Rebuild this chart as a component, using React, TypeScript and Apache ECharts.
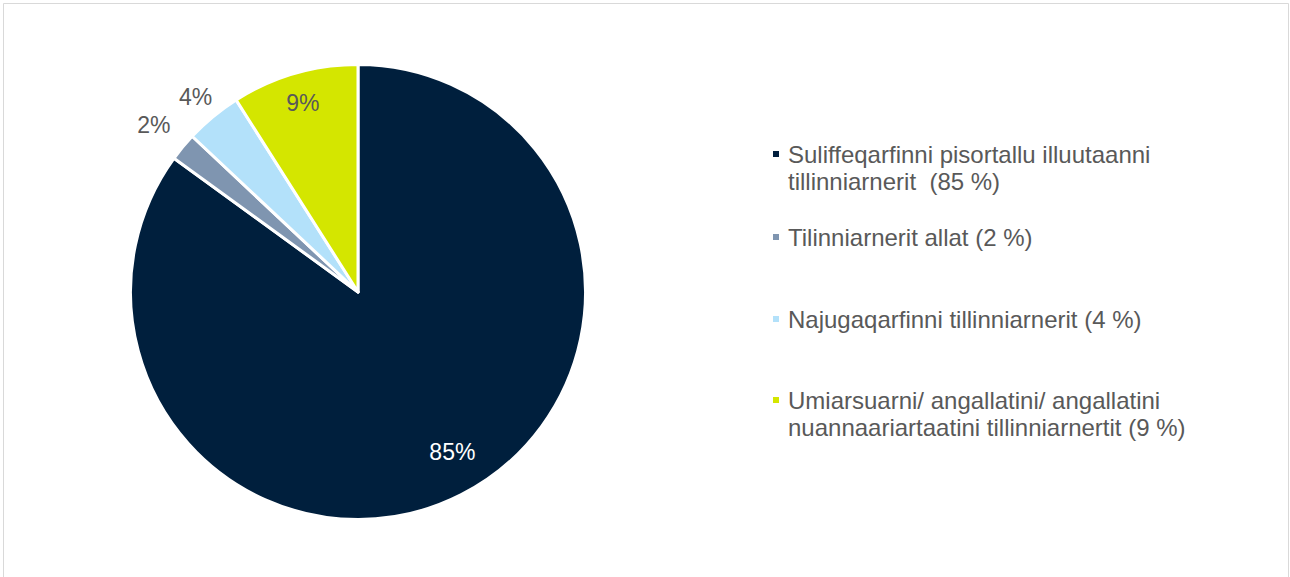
import React, { useEffect, useRef } from "react";
import * as echarts from "echarts";

const categories = [
  "Suliffeqarfinni pisortallu illuutaanni\ntillinniarnerit  (85 %)",
  "Tilinniarnerit allat (2 %)",
  "Najugaqarfinni tillinniarnerit (4 %)",
  "Umiarsuarni/ angallatini/ angallatini\nnuannaariartaatini tillinniarnertit (9 %)",
];
const values = [85, 2, 4, 9];
const sliceLabels = ["85%", "2%", "4%", "9%"];
const colors = ["#001f3d", "#7f95b0", "#b3e1fa", "#d4e600"];
const labelColors = ["#ffffff", "#595959", "#595959", "#595959"];
const labelRadiusFactor = [0.81, 1.165, 1.12, 0.87];
const labelAngleShiftDeg = [-3.8, 0, 0, 0];
const legendTops = [113.5, 223.5, 305.5, 359.5];

const CX = 358;
const CY = 292;
const R = 227.5;
const FONT = "Arial, 'Liberation Sans', Helvetica, sans-serif";

export default function App() {
  const ref = useRef<HTMLDivElement>(null);
  useEffect(() => {
    if (!ref.current) return;
    const chart = echarts.init(ref.current, null, { renderer: "svg" });
    const total = values.reduce((a, b) => a + b, 0);
    const cum: number[] = [];
    let acc = 0;
    values.forEach((v) => {
      cum.push(acc);
      acc += v;
    });
    const option = {
      animation: false,
      backgroundColor: "#ffffff",
      graphic: [
        {
          type: "rect",
          shape: { x: 3.5, y: 3.5, width: 1285, height: 600 },
          style: { fill: "none", stroke: "#d9d9d9", lineWidth: 1 },
          silent: true,
        },
      ],
      legend: categories.map((name, i) => ({
        data: [name],
        orient: "vertical",
        left: 771,
        top: legendTops[i],
        padding: 0,
        itemWidth: 8,
        itemHeight: 8,
        icon: "rect",
        selectedMode: false,
        formatter: (n: string) => (n.includes("\n") ? "\n" + n : n),
        textStyle: {
          fontFamily: FONT,
          fontSize: 24,
          color: "#595959",
          lineHeight: 27,
          padding: [0, 0, 0, 3],
        },
      })),
      series: [
        {
          type: "pie",
          center: [CX, CY],
          radius: [0, R],
          startAngle: 90,
          clockwise: true,
          avoidLabelOverlap: false,
          itemStyle: { borderColor: "#ffffff", borderWidth: 3 },
          labelLine: { show: false },
          label: {
            show: true,
            position: "inside",
            fontFamily: FONT,
            fontSize: 23,
            formatter: (p: any) => sliceLabels[p.dataIndex],
          },
          labelLayout: (p: any) => {
            const i = p.dataIndex;
            const f = (cum[i] + values[i] / 2) / total;
            const th = f * 2 * Math.PI + (labelAngleShiftDeg[i] * Math.PI) / 180;
            const r = R * labelRadiusFactor[i];
            return {
              x: CX + r * Math.sin(th),
              y: CY - r * Math.cos(th) + 1.5,
              align: "center",
              verticalAlign: "middle",
            };
          },
          data: categories.map((name, i) => ({
            name,
            value: values[i],
            itemStyle: { color: colors[i] },
            label: { color: labelColors[i] },
          })),
        },
      ],
    };
    chart.setOption(option as any);
    return () => chart.dispose();
  }, []);
  return (
    <div
      ref={ref}
      style={{ position: "absolute", left: 0, top: 0, width: 1290, height: 577 }}
    />
  );
}
